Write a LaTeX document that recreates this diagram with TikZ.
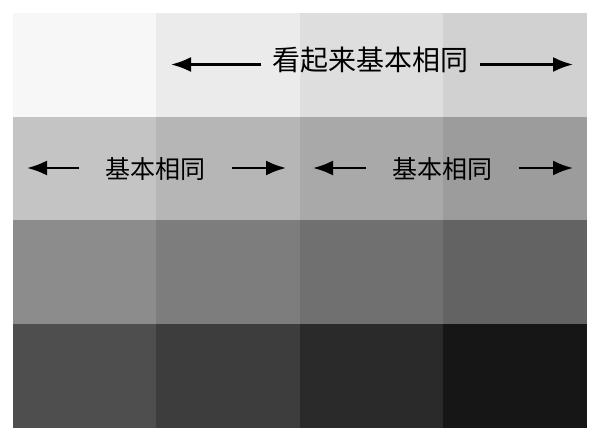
\documentclass[tikz,border=0pt]{standalone}
\usepackage{fontspec}
\newfontfamily\cjk{Noto Sans CJK SC}
\usepackage{xcolor}
\usepackage{tikz}
\usetikzlibrary{arrows.meta, calc}

\tikzset{
    cell/.style={inner sep=0pt, minimum width=143.4pt, minimum height=103.7pt},
    biglabel/.style={font=\cjk\fontsize{28}{28}\selectfont, inner xsep=11pt, inner ysep=0pt, anchor=base},
    smalllabel/.style={font=\cjk\fontsize{25}{25}\selectfont, inner xsep=26pt, inner ysep=0pt, anchor=base},
    arr/.style={-{Latex[length=20pt, width=15pt]}, line width=2.3pt, black}
}

\begin{document}
\begin{tikzpicture}[x=1pt, y=-1pt]
        \useasboundingbox (0,0) rectangle (600,443);
        \fill[white] (0,0) rectangle (600,443);

        % grey cells, row by row
        \foreach \c [count=\i from 0] in {F7F7F7,EBEBEB,DEDEDE,D1D1D1,
                                          C4C4C4,B6B6B6,A9A9A9,9C9C9C,
                                          8C8C8C,7D7D7D,707070,636363,
                                          4E4E4E,3D3D3D,2A2A2A,161616} {
            \pgfmathtruncatemacro{\col}{mod(\i,4)}
            \pgfmathtruncatemacro{\row}{int(\i/4)}
            \definecolor{cellcol}{HTML}{\c}
            \node[cell, fill=cellcol] (cell-\row-\col) at ({13+143.4*(\col+0.5)}, {13+103.7*(\row+0.5)}) {};
        }

        % labels
        \node[biglabel] (same) at (370.5,71) {看起来基本相同};
        \node[smalllabel] (leftsame) at (155.5,178.5) {基本相同};
        \node[smalllabel] (rightsame) at (442.5,178.5) {基本相同};

        \coordinate (same-l) at (171,64.5);
        \coordinate (same-r) at (573,64.5);
        \coordinate (leftsame-l) at (27,168);
        \coordinate (leftsame-r) at (286,168);
        \coordinate (rightsame-l) at (313,168);
        \coordinate (rightsame-r) at (573,168);

        % arrows
        \foreach \n in {same, leftsame, rightsame} {
            \draw[arr] (\n.west |- \n-l) -- (\n-l);
            \draw[arr] (\n.east |- \n-r) -- (\n-r);
        }
\end{tikzpicture}
\end{document}
